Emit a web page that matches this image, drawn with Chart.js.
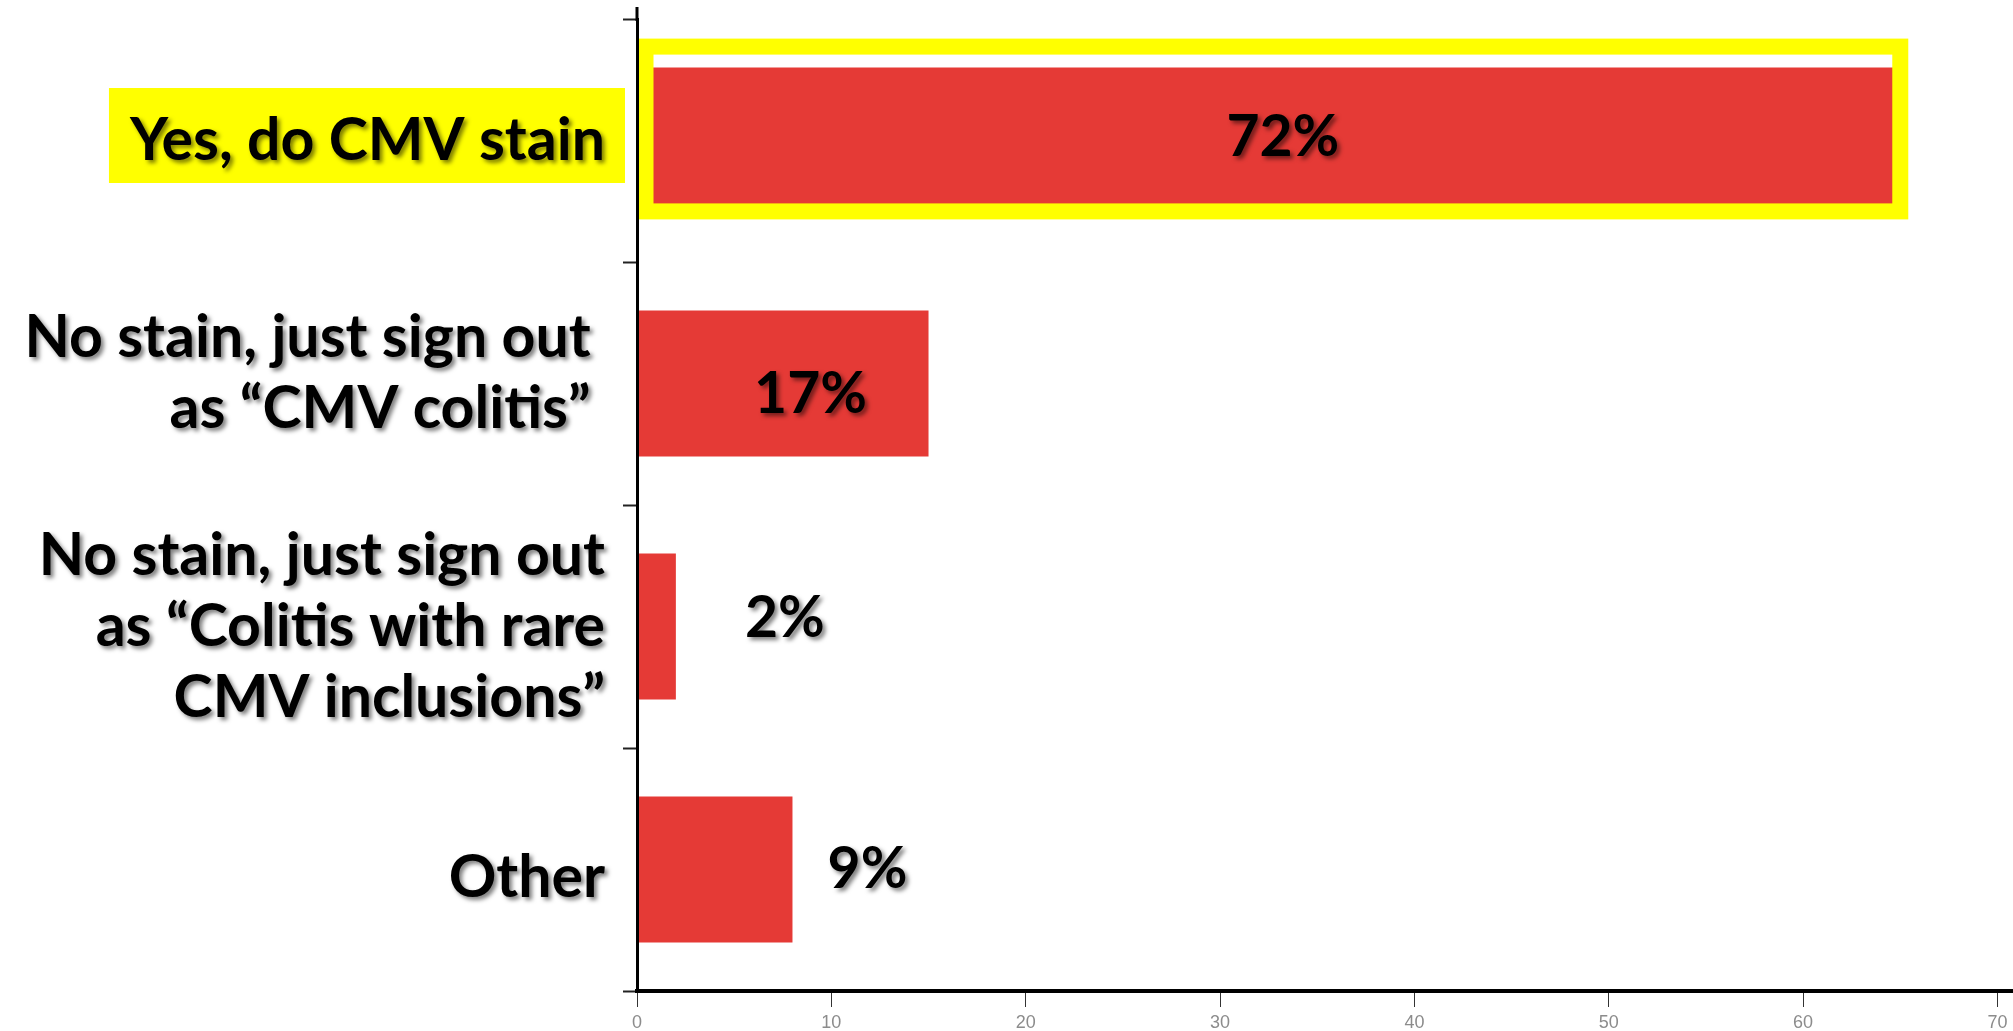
<!DOCTYPE html>
<html><head><meta charset="utf-8">
<script src="https://cdn.jsdelivr.net/npm/chart.js@4.4.1/dist/chart.umd.min.js"></script>
<style>html,body{margin:0;padding:0;background:#fff;} #wrap{width:2013px;height:1031px;position:relative;}</style>
</head><body><div id="wrap"><canvas id="c"></canvas></div>
<script>
// ---- data ----
const categories = [
  "Yes, do CMV stain",
  ["No stain, just sign out ", "as “CMV colitis” "],
  ["No stain, just sign out", "as “Colitis with rare", "CMV inclusions”"],
  "Other"
];
const responses = [65, 15, 2, 8];
const xTickValues = [0, 10, 20, 30, 40, 50, 60, 70];
const total = responses.reduce((a, b) => a + b, 0);
const percentLabels = responses.map(v => Math.round(v / total * 100) + '%');

const SHADOW = {color: 'rgba(0,0,0,0.5)', dx: 3, dy: 3, blur: 4};

function setShadow(ctx) {
  ctx.shadowColor = SHADOW.color; ctx.shadowOffsetX = SHADOW.dx;
  ctx.shadowOffsetY = SHADOW.dy; ctx.shadowBlur = SHADOW.blur;
}

const labelShadowPatch = {
  id: 'labelShadowPatch',
  afterLayout(chart, args, opts) {
    const y = chart.scales.y;
    if (!y || y._shadowPatched) return;
    const nudge = opts.nudge || [];
    const origItems = y._computeLabelItems;
    y._computeLabelItems = function (area) {
      const items = origItems.call(this, area);
      items.forEach((it, i) => { it.options.translation[1] += (nudge[i] || 0); });
      return items;
    };
    y._labelItems = null;
    const orig = y.drawLabels;
    y.drawLabels = function (area) {
      const c = this.ctx;
      c.save();
      setShadow(c);
      const fr = c.fillRect;
      c.fillRect = function () {
        const s = c.shadowColor; c.shadowColor = 'transparent';
        fr.apply(c, arguments); c.shadowColor = s;
      };
      orig.call(this, area);
      delete c.fillRect;
      c.restore();
    };
    y._shadowPatched = true;
  }
};

const highlightBox = {
  id: 'highlightBox',
  afterDatasetsDraw(chart) {
    const bar = chart.getDatasetMeta(0).data[0];
    if (!bar) return;
    const ctx = chart.ctx;
    const lw = 16;
    const left = bar.base + lw / 2, right = bar.x;
    const top = bar.y - bar.height / 2 - 21, bottom = bar.y + bar.height / 2 - 2;
    ctx.save();
    ctx.strokeStyle = '#ffff00';
    ctx.lineWidth = lw;
    ctx.strokeRect(left, top, right - left, bottom - top);
    ctx.restore();
  }
};

const valueLabels = {
  id: 'valueLabels',
  afterDatasetsDraw(chart, args, opts) {
    const ctx = chart.ctx;
    const meta = chart.getDatasetMeta(0);
    const size = opts.size;
    ctx.save();
    ctx.font = 'bold ' + size + 'px Lato';
    ctx.fillStyle = '#000';
    ctx.textAlign = 'center';
    ctx.textBaseline = 'alphabetic';
    setShadow(ctx);
    meta.data.forEach((bar, i) => {
      const o = opts.offsets[i];
      const anchor = o.from === 'mid' ? (bar.base + bar.x) / 2 : bar.x;
      ctx.fillText(percentLabels[i], anchor + o.dx, bar.y + o.dy + 0.36 * size);
    });
    ctx.restore();
  }
};

const axisExtension = {
  id: 'axisExtension',
  afterDraw(chart) {
    const ctx = chart.ctx;
    const a = chart.chartArea;
    ctx.save();
    ctx.strokeStyle = '#000';
    ctx.lineWidth = 3;
    ctx.beginPath();
    ctx.moveTo(a.left, 7);
    ctx.lineTo(a.left, a.top + 2);
    ctx.stroke();
    ctx.restore();
  }
};

new Chart(document.getElementById('c'), {
  type: 'bar',
  data: {
    labels: categories,
    datasets: [{
      data: responses,
      backgroundColor: '#e53a36',
      borderWidth: 0,
      barPercentage: 0.6,
      categoryPercentage: 1.0
    }]
  },
  options: {
    indexAxis: 'y',
    responsive: true,
    maintainAspectRatio: false,
    animation: false,
    layout: {padding: {top: 19, left: 0, right: 0, bottom: 0}},
    plugins: {
      legend: {display: false},
      tooltip: {enabled: false},
      labelShadowPatch: {nudge: [0, -10, 0, 8]},
      valueLabels: {
        size: 57,
        offsets: [
          {from: 'mid', dx: 14, dy: -5},
          {from: 'end', dx: -118, dy: 9},
          {from: 'end', dx: 109, dy: -10},
          {from: 'end', dx: 75, dy: -2}
        ]
      }
    },
    scales: {
      x: {
        type: 'linear',
        min: 0,
        max: 70.8,
        afterBuildTicks(scale) { scale.ticks = xTickValues.map(v => ({value: v})); },
        afterFit(scale) { scale.height = 40; scale.paddingLeft = 0; scale.paddingRight = 0; },
        grid: {drawOnChartArea: false, drawTicks: true, tickLength: 16, tickColor: '#333', tickWidth: 1},
        border: {display: true, color: '#000', width: 4, z: 1},
        ticks: {color: '#8c8c8c', padding: 5, font: {family: 'Liberation Sans', size: 18}, maxRotation: 0}
      },
      y: {
        afterFit(scale) { scale.width = 637; scale.paddingTop = 0; scale.paddingBottom = 0; },
        grid: {drawOnChartArea: false, drawTicks: true, tickLength: 14, tickColor: '#222', tickWidth: 2, offset: true},
        border: {display: true, color: '#000', width: 3, z: 1},
        ticks: {
          color: '#000',
          padding: 18,
          font: {family: 'Lato', weight: 'bold', size: 59, lineHeight: '71px'},
          showLabelBackdrop: (c) => c.index === 0,
          backdropColor: '#ffff00',
          backdropPadding: {left: 21, right: 20, top: 17, bottom: 7}
        }
      }
    }
  },
  plugins: [labelShadowPatch, highlightBox, valueLabels, axisExtension]
});
</script>
</body></html>
